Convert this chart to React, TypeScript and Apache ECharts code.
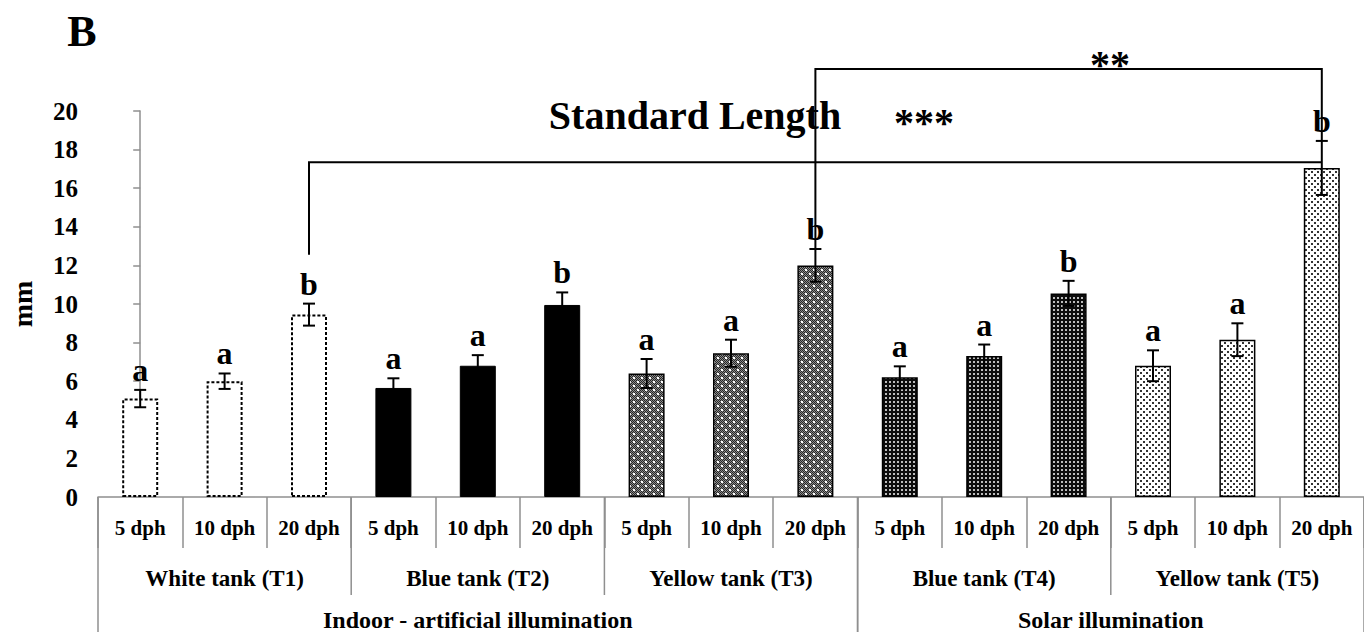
import React, { useEffect, useRef } from 'react';
import * as echarts from 'echarts';

const categories = [
  '5 dph', '10 dph', '20 dph',
  '5 dph', '10 dph', '20 dph',
  '5 dph', '10 dph', '20 dph',
  '5 dph', '10 dph', '20 dph',
  '5 dph', '10 dph', '20 dph',
];
const tankGroups = ['White tank (T1)', 'Blue tank (T2)', 'Yellow tank (T3)', 'Blue tank (T4)', 'Yellow tank (T5)'];
const illuminationLabels = ['Indoor - artificial illumination', 'Solar illumination'];
const illuminationTankCounts = [3, 2];
const values = [5.1, 6.0, 9.45, 5.65, 6.8, 9.95, 6.4, 7.45, 12.0, 6.2, 7.3, 10.55, 6.8, 8.15, 17.05];
const errors = [0.45, 0.4, 0.57, 0.5, 0.55, 0.65, 0.75, 0.7, 0.85, 0.57, 0.6, 0.65, 0.8, 0.85, 1.4];
const letters = ['a', 'a', 'b', 'a', 'a', 'b', 'a', 'a', 'b', 'a', 'a', 'b', 'a', 'a', 'b'];
const yTicks = { min: 0, max: 20, interval: 2 };
// brackets: [fromIndex, toIndex, level, fromBase, toBase]
const brackets = [
  [2, 14, 17.35, 12.55, 17.35],
  [8, 14, 22.18, 12.9, 18.45],
];

const FONT = '"Liberation Serif", "Times New Roman", serif';
const GREY = '#8f8f8f';

function makePattern(size: number, draw: (ctx: CanvasRenderingContext2D) => void) {
  const c = document.createElement('canvas');
  c.width = size;
  c.height = size;
  const ctx = c.getContext('2d') as CanvasRenderingContext2D;
  draw(ctx);
  return { image: c.toDataURL(), repeat: 'repeat', imageWidth: size, imageHeight: size };
}

export default function App() {
  const ref = useRef<HTMLDivElement>(null);
  useEffect(() => {
    if (!ref.current) return;
    const chart = echarts.init(ref.current, null, { renderer: 'svg' });

    const patT3 = makePattern(8, (ctx) => {
      for (let y = 0; y < 8; y++)
        for (let x = 0; x < 8; x++) {
          ctx.fillStyle = (x + y) % 2 === 0 ? '#262626' : '#8c8c8c';
          ctx.fillRect(x, y, 1, 1);
        }
      ctx.fillStyle = '#fff';
      ctx.fillRect(1, 1, 2, 2);
      ctx.fillRect(5, 5, 2, 2);
    });
    const patT4 = makePattern(4, (ctx) => {
      ctx.fillStyle = '#0d0d0d';
      ctx.fillRect(0, 0, 4, 4);
      ctx.fillStyle = '#bdbdbd';
      ctx.fillRect(1, 1, 2, 2);
    });
    const patT5 = makePattern(6, (ctx) => {
      ctx.fillStyle = '#fff';
      ctx.fillRect(0, 0, 6, 6);
      ctx.fillStyle = '#333';
      ctx.fillRect(0, 0, 2, 2);
      ctx.fillRect(3, 3, 2, 2);
    });

    const groupStyles: any[] = [
      { color: '#fff', borderColor: '#000', borderWidth: 2, borderType: [3, 2] },
      { color: '#000', borderColor: '#000', borderWidth: 1 },
      { color: patT3, borderColor: '#000', borderWidth: 1.5 },
      { color: patT4, borderColor: '#000', borderWidth: 1.5 },
      { color: patT5, borderColor: '#000', borderWidth: 1.5 },
    ];

    const grid = { left: 93, top: 111, width: 1275, height: 386 };

    chart.setOption({
      animation: false,
      grid,
      graphic: [
        { type: 'text', x: 82, y: 31, style: { text: 'B', font: `bold 44px ${FONT}`, fill: '#000', align: 'center', verticalAlign: 'middle' } },
        { type: 'text', x: 695, y: 115, style: { text: 'Standard Length', font: `bold 40px ${FONT}`, fill: '#000', align: 'center', verticalAlign: 'middle' } },
        { type: 'text', x: 924, y: 122, style: { text: '***', font: `bold 40px ${FONT}`, fill: '#000', align: 'center', verticalAlign: 'middle' } },
        { type: 'text', x: 1110, y: 64, style: { text: '**', font: `bold 40px ${FONT}`, fill: '#000', align: 'center', verticalAlign: 'middle' } },
      ],
      xAxis: [
        {
          type: 'category',
          data: categories,
          boundaryGap: true,
          axisLine: { lineStyle: { color: GREY, width: 1.5 } },
          axisTick: { show: true, interval: 0, length: 51, lineStyle: { color: GREY, width: 1.5 } },
          axisLabel: { interval: 0, margin: 20, color: '#000', fontFamily: FONT, fontWeight: 'bold', fontSize: 21 },
          splitLine: { show: false },
        },
        { type: 'value', min: -0.5, max: 14.5, show: false },
      ],
      yAxis: {
        type: 'value',
        min: yTicks.min,
        max: yTicks.max,
        interval: yTicks.interval,
        name: 'mm',
        nameLocation: 'middle',
        nameGap: 62,
        nameRotate: 90,
        nameTextStyle: { color: '#000', fontFamily: FONT, fontWeight: 'bold', fontSize: 28 },
        axisLine: { show: true, lineStyle: { color: GREY, width: 1.5 } },
        axisTick: { show: true, length: 7, lineStyle: { color: GREY, width: 1.5 } },
        axisLabel: { margin: 20, color: '#000', fontFamily: FONT, fontWeight: 'bold', fontSize: 25 },
        splitLine: { show: false },
      },
      series: [
        {
          type: 'bar',
          barWidth: 36,
          data: values.map((v, i) => ({ value: v, itemStyle: groupStyles[Math.floor(i / 3)] })),
          z: 2,
        },
        {
          type: 'custom',
          xAxisIndex: 0,
          yAxisIndex: 0,
          z: 5,
          silent: true,
          data: values.map((v, i) => [i, v, errors[i]]),
          encode: { x: 0, y: 1 },
          renderItem: (params: any, api: any) => {
            const i = api.value(0);
            const v = api.value(1);
            const e = api.value(2);
            const top = api.coord([i, v + e]);
            const bot = api.coord([i, v - e]);
            const hw = 6;
            const st = { stroke: '#000', lineWidth: 2 };
            return {
              type: 'group',
              children: [
                { type: 'line', shape: { x1: top[0], y1: top[1], x2: bot[0], y2: bot[1] }, style: st },
                { type: 'line', shape: { x1: top[0] - hw, y1: top[1], x2: top[0] + hw, y2: top[1] }, style: st },
                { type: 'line', shape: { x1: bot[0] - hw, y1: bot[1], x2: bot[0] + hw, y2: bot[1] }, style: st },
                {
                  type: 'text',
                  style: {
                    text: letters[params.dataIndex],
                    x: top[0],
                    y: top[1] - 4,
                    fill: '#000',
                    font: `bold 32px ${FONT}`,
                    align: 'center',
                    verticalAlign: 'bottom',
                  },
                },
              ],
            };
          },
        },
        {
          type: 'custom',
          xAxisIndex: 1,
          yAxisIndex: 0,
          z: 6,
          silent: true,
          data: brackets,
          encode: { x: 0, y: 2 },
          renderItem: (params: any, api: any) => {
            const a = api.value(0);
            const b = api.value(1);
            const lvl = api.value(2);
            const fb = api.value(3);
            const tb = api.value(4);
            return {
              type: 'polyline',
              shape: { points: [api.coord([a, fb]), api.coord([a, lvl]), api.coord([b, lvl]), api.coord([b, tb])] },
              style: { stroke: '#000', lineWidth: 2, fill: 'none' },
            };
          },
        },
        {
          type: 'custom',
          xAxisIndex: 1,
          yAxisIndex: 0,
          z: 3,
          silent: true,
          data: [[0, 0]],
          encode: { x: 0, y: 1 },
          renderItem: (params: any, api: any) => {
            const y0 = api.coord([0, 0])[1];
            const px = (x: number) => api.coord([x, 0])[0];
            const children: any[] = [];
            const lineSt = { stroke: GREY, lineWidth: 1.5 };
            const txt = (t: string, x: number, y: number, size: number) => ({
              type: 'text',
              style: { text: t, x, y, fill: '#000', font: `bold ${size}px ${FONT}`, align: 'center', verticalAlign: 'middle' },
            });
            tankGroups.forEach((label, g) => {
              const s = g * 3;
              children.push(txt(label, px(s + 1), y0 + 81, 23));
            });
            let g0 = 0;
            illuminationLabels.forEach((label, k) => {
              const n = illuminationTankCounts[k];
              const s = g0 * 3;
              const e = (g0 + n) * 3 - 1;
              children.push(txt(label, px((s + e) / 2), y0 + 123, 24));
              const xl = px(s - 0.5);
              children.push({ type: 'line', shape: { x1: xl, y1: y0, x2: xl, y2: y0 + 140 }, style: lineSt });
              const xr = px(e + 0.5);
              children.push({ type: 'line', shape: { x1: xr, y1: y0, x2: xr, y2: y0 + 140 }, style: lineSt });
              for (let j = 1; j < n; j++) {
                const xb = px((g0 + j) * 3 - 0.5);
                children.push({ type: 'line', shape: { x1: xb, y1: y0, x2: xb, y2: y0 + 98 }, style: lineSt });
              }
              g0 += n;
            });
            return { type: 'group', children };
          },
        },
      ],
    });
    return () => chart.dispose();
  }, []);
  return <div ref={ref} style={{ position: 'fixed', left: 0, top: 0, width: 1364, height: 632, background: '#fff' }} />;
}
